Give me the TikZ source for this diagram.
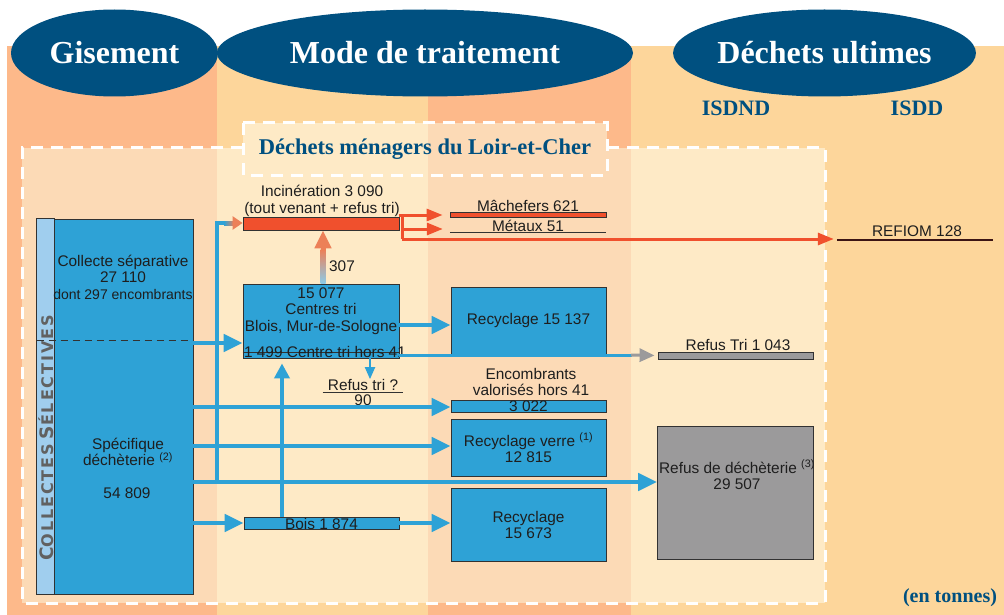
\documentclass[tikz,border=0pt]{standalone}
\usepackage{amsmath}
\usepackage{fontspec}
\setmainfont{Liberation Sans}
\newfontfamily\headfont{Liberation Serif}
\newfontfamily\stripfont[LetterSpace=12]{DejaVu Sans}
\usetikzlibrary{arrows.meta,shapes.geometric,calc}

\definecolor{salmon}{RGB}{253,185,138}
\definecolor{sand}{RGB}{253,214,155}
\definecolor{salmonlt}{RGB}{252,218,182}
\definecolor{sandlt}{RGB}{254,234,198}
\definecolor{navy}{RGB}{0,80,128}
\definecolor{flowblue}{RGB}{46,162,214}
\definecolor{stripblue}{RGB}{160,206,238}
\definecolor{refusgray}{RGB}{155,154,155}
\definecolor{incred}{RGB}{240,80,45}
\definecolor{warmorange}{RGB}{236,128,88}
\definecolor{edge}{RGB}{50,50,50}
\definecolor{ink}{RGB}{30,30,30}

\newcommand{\lblfont}{\fontsize{15.4}{16.5}\selectfont}

\tikzset{
  head/.style={ellipse, fill=navy, text=white, inner sep=0pt, minimum height=87pt,
    font=\headfont\bfseries\fontsize{32}{34}\selectfont},
  unit/.style={text=navy, inner sep=0pt, font=\headfont\bfseries\fontsize{22}{24}\selectfont},
  box/.style={draw=edge, line width=0.8pt, fill=flowblue, inner sep=0pt, align=center,
    text=ink, font=\lblfont},
  lbl/.style={inner sep=0pt, align=center, text=ink, font=\lblfont},
  frame/.style={white, line width=3pt, dash pattern=on 12pt off 8pt},
  flow/.style={draw=flowblue, line width=4.5pt, -{Triangle[length=19pt,width=17pt]}},
  thinflow/.style={draw=flowblue, line width=2pt, -{Triangle[length=12pt,width=10pt]}},
  redflow/.style={draw=incred, line width=3pt, -{Triangle[length=16pt,width=12pt]}},
  grayflow/.style={draw=refusgray, line width=3pt, -{Triangle[length=15pt,width=13pt]}},
  barline/.style={draw=edge, line width=1.5pt},
}

\begin{document}
\begin{tikzpicture}[x=1pt,y=1pt,yscale=-1]
\useasboundingbox (0,0) rectangle (1004,615);
\fill[white] (0,0) rectangle (1004,615);

%Columns
\fill[salmon] (7,46) rectangle (217,615);
\fill[sand] (217,46) rectangle (428,615);
\fill[salmon] (428,46) rectangle (631,615);
\fill[sand] (631,46) rectangle (1004,615);
%Inner area
\fill[salmonlt] (22,148) rectangle (217,603);
\fill[sandlt] (217,148) rectangle (428,603);
\fill[salmonlt] (428,148) rectangle (631,603);
\fill[sandlt] (631,148) rectangle (825,603);
\fill[sandlt] (243,123) rectangle (428,148);
\fill[salmonlt] (428,123) rectangle (607,148);
\draw[frame] (243,148) -- (22,148) -- (22,603) -- (825,603) -- (825,148) -- (607,148);
\draw[frame] (243,123) rectangle (607,175);

%Headers
\node[head, minimum width=207pt] (gis) at (114.5,53) {Gisement};
\node[head, minimum width=416pt] (mode) at (425,53) {Mode de traitement};
\node[head, minimum width=259pt] (ult) at (824.5,53) {Déchets ultimes};
\node[unit] (isdnd) at (736,108) {ISDND};
\node[unit] (isdd) at (917,108) {ISDD};
\node[unit, font=\headfont\bfseries\fontsize{22.5}{24}\selectfont] (titre) at (425,149) {Déchets ménagers du Loir-et-Cher};
\node[unit, font=\headfont\bfseries\fontsize{20}{22}\selectfont] (unite) at (950,598) {(en tonnes)};

%Collectes box
\node[box, minimum width=156pt, minimum height=375pt] (coll) at (115,406.5) {};
\draw[edge, fill=stripblue, line width=0.8pt] (coll.north west) rectangle ($(coll.south west)+(18,0)$);
\draw[edge, line width=0.8pt, dash pattern=on 7pt off 5pt] (coll.west |- 0,340) -- (coll.east |- 0,340);
\node[rotate=90, inner sep=0pt, text=black!62, font=\stripfont\bfseries] (selec) at (46.5,438)
  {{\fontsize{18.5}{18}\selectfont C}{\fontsize{16}{16}\selectfont OLLECTES} {\fontsize{18.5}{18}\selectfont S}{\fontsize{16}{16}\selectfont ÉLECTIVES}};
% Text Node
\node[lbl] (septxt) at (123,277) {Collecte séparative\\27 110\\{\fontsize{14}{16}\selectfont dont 297 encombrants}};
\node[lbl] (spetxt) at (128,452) {Spécifique\\déchèterie \textsuperscript{(2)}};
\node[lbl] (spenum) at (127,493) {54 809};

%Treatment boxes
\node[box, fill=incred, minimum width=156pt, minimum height=13pt] (incin) at (321,223.5) {};
\node[lbl] (incinlbl) at (322,201) {Incinération 3 090\\(tout venant + refus tri)};
\node[box, minimum width=156pt, minimum height=74pt] (tri) at (321,321) {};
\node[lbl] (tritxt) at (321,311) {15 077\\Centres tri\\Blois, Mur-de-Sologne};
\draw[edge, line width=0.8pt] (tri.west |- 0,352) -- (tri.east |- 0,352);
\node[lbl] (trihors) at (325,352) {1 499 Centre tri hors 41};
\node[lbl] (refq) at (363,385) {Refus tri ?};
\draw[barline, line width=1.2pt] ([xshift=-5pt,yshift=2pt]refq.south west) -- ([xshift=5pt,yshift=2pt]refq.south east);
\node[lbl] (refqnum) at (363,400.5) {90};
\node[box, minimum width=155pt, minimum height=11pt] (bois) at (321.5,523.5) {Bois 1 874};

%Recovery boxes
\node[box, fill=incred, minimum width=156pt, minimum height=4.5pt] (mach) at (528,215) {};
\node[lbl] (machlbl) at (528,206) {Mâchefers 621};
\node[inner sep=0pt, minimum width=156pt, minimum height=0pt] (metaux) at (528,232.5) {};
\draw[barline] (metaux.west) -- (metaux.east);
\node[lbl] (metlbl) at (528,226) {Métaux 51};
\node[box, minimum width=155pt, minimum height=67pt] (rec1) at (528.5,320.5) {Recyclage 15 137};
\node[box, minimum width=155pt, minimum height=12pt] (enc) at (528.5,406.5) {3 022};
\node[lbl] (enclbl) at (531,382) {Encombrants\\valorisés hors 41};
\node[box, minimum width=155pt, minimum height=57pt] (verre) at (528.5,448) {Recyclage verre \textsuperscript{(1)}\\12 815};
\node[box, minimum width=155pt, minimum height=73pt] (rec2) at (528.5,525) {Recyclage\\15 673};

%Final waste
\node[inner sep=0pt, minimum width=156pt, minimum height=0pt] (refiom) at (915,240) {};
\draw[draw={rgb,255:red,60;green,20;blue,20}, line width=2pt] (refiom.west) -- (refiom.east);
\node[lbl] (refiomlbl) at (917,231) {REFIOM 128};
\node[box, fill=refusgray, minimum width=155pt, minimum height=7pt] (reftri) at (735.5,355.5) {};
\node[lbl] (reftrilbl) at (738,345) {Refus Tri 1 043};
\node[box, fill=refusgray, minimum width=156pt, minimum height=133pt] (refdech) at (735.5,493) {};
\node[lbl] (refdechtxt) at (737,475) {Refus de déchèterie \textsuperscript{(3)}\\29 507};

%Flows
\coordinate (fork) at (217,482);
\draw[flow] (coll.east |- 0,482) -- (refdech.west |- 0,482);
\draw[draw=flowblue, line width=4pt] (fork) -- (217,223) -- (225,223);
\shade[left color=flowblue, right color=warmorange] (224,221) rectangle (234,225);
\draw[draw=warmorange, line width=4pt, -{Triangle[length=10pt,width=13pt]}] (233,223) -- (incin.west |- 0,223);
\draw[flow] (coll.east |- 0,343) -- (tri.west |- 0,343);
\draw[flow] (coll.east |- 0,407) -- (enc.west |- 0,407);
\draw[flow] (coll.east |- 0,446) -- (verre.west |- 0,446);
\draw[flow] (coll.east |- 0,523) -- (bois.west |- 0,523);
\draw[flow] (bois.east |- 0,523) -- (rec2.west |- 0,523);
\draw[flow] (tri.east |- 0,325) -- (rec1.west |- 0,325);
\draw[flow, line width=4pt, -{Triangle[length=15pt,width=15pt]}, shorten >=5pt] (bois.north -| 282,0) -- (tri.south -| 282,0);
\draw[thinflow] ([xshift=49pt]tri.south) -- ([xshift=7pt]refq.north);
%307
\shade[bottom color=flowblue!55, top color=warmorange] ($(tri.north)+(-0.5,0)$) rectangle ($(tri.north)+(4.5,-34)$);
\draw[draw=warmorange, line width=5pt, -{Triangle[length=18pt,width=16pt]}] ($(tri.north)+(2,-33)$) -- ([xshift=2pt]incin.south);
\node[lbl] (n307) at (342,266) {307};
%Incineration outputs
\draw[draw=incred, line width=3pt] (incin.east |- 0,215) -| (402,239);
\draw[redflow, shorten >=7pt] (incin.east |- 0,215) -- (mach.west);
\draw[redflow, shorten >=7pt] (402,229) -- (metaux.west |- 0,229);
\draw[redflow, shorten >=3pt] (402,239) -- (refiom.west |- 0,239);
%Refus tri
\draw[draw=flowblue, line width=3pt] (tri.east |- 0,355) -- (632,355);
\draw[grayflow, shorten >=3pt] (631,355) -- (reftri.west);

\end{tikzpicture}
\end{document}
